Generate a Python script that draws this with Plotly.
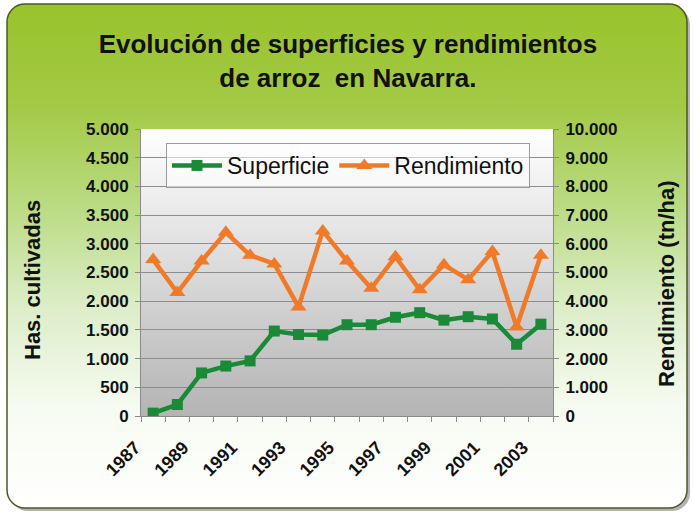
import base64
import plotly.graph_objects as go

# ---------------- data ----------------
years = [1987, 1988, 1989, 1990, 1991, 1992, 1993, 1994, 1995, 1996,
         1997, 1998, 1999, 2000, 2001, 2002, 2003]
superficie = [50, 200, 750, 870, 960, 1480, 1420, 1410, 1590, 1590,
              1720, 1800, 1670, 1730, 1690, 1250, 1600]
rendimiento = [5450, 4300, 5400, 6400, 5600, 5300, 3800, 6450, 5400, 4450,
               5550, 4400, 5270, 4750, 5730, 3100, 5600]

x_label_years = [1987, 1989, 1991, 1993, 1995, 1997, 1999, 2001, 2003]
x_tick_text = [str(y) for y in x_label_years]
left_ticks = [0, 500, 1000, 1500, 2000, 2500, 3000, 3500, 4000, 4500, 5000]
left_tick_text = ["0", "500", "1.000", "1.500", "2.000", "2.500", "3.000",
                  "3.500", "4.000", "4.500", "5.000"]
right_ticks = [0, 1000, 2000, 3000, 4000, 5000, 6000, 7000, 8000, 9000, 10000]
right_tick_text = ["0", "1.000", "2.000", "3.000", "4.000", "5.000", "6.000",
                   "7.000", "8.000", "9.000", "10.000"]

title_text = "Evolución de superficies y rendimientos<br>de arroz  en Navarra."
left_title = "Has. cultivadas"
right_title = "Rendimiento (tn/ha)"

# ---------------- layout geometry ----------------
W, H = 693, 513
PL, PR, PT, PB = 141, 553, 129, 416
FONT = "Liberation Sans, Arial, sans-serif"

svg = f"""<svg xmlns='http://www.w3.org/2000/svg' width='{W}' height='{H}' viewBox='0 0 {W} {H}' preserveAspectRatio='none'>
<defs>
<linearGradient id='g' x1='0' y1='0' x2='0' y2='1'>
<stop offset='0' stop-color='#99c32b'/>
<stop offset='0.2' stop-color='#a3c945'/>
<stop offset='0.4' stop-color='#badb82'/>
<stop offset='0.6' stop-color='#dcedc8'/>
<stop offset='0.8' stop-color='#f6fbf1'/>
<stop offset='1' stop-color='#ffffff'/>
</linearGradient>
<linearGradient id='p' x1='0' y1='0' x2='0' y2='1'>
<stop offset='0' stop-color='#ffffff'/>
<stop offset='1' stop-color='#b4b4b4'/>
</linearGradient>
</defs>
<rect x='10' y='7' width='680' height='504' rx='18' fill='#555555' opacity='0.45'/>
<rect x='7' y='4' width='680' height='504' rx='18' fill='url(#g)' stroke='#4a5a22' stroke-width='1.5'/>
<rect x='{PL}' y='{PT}' width='{PR-PL}' height='{PB-PT}' fill='url(#p)'/>
<line x1='{PL}' y1='{PB+1.5}' x2='{PR}' y2='{PB+1.5}' stroke='#ffffff' stroke-width='1.5'/>
</svg>"""
bg_uri = "data:image/svg+xml;base64," + base64.b64encode(svg.encode()).decode()

fig = go.Figure()
fig.add_trace(go.Scatter(
    x=years, y=superficie, name="Superficie", mode="lines+markers",
    line=dict(color="#1a8a38", width=4.5),
    marker=dict(symbol="square", size=11, color="#1a8a38"),
    yaxis="y"))
fig.add_trace(go.Scatter(
    x=years, y=rendimiento, name="Rendimiento", mode="lines+markers",
    line=dict(color="#f07a28", width=4.5),
    marker=dict(symbol="triangle-up", size=14, color="#f07a28"),
    yaxis="y2"))

tickfont = dict(family=FONT, size=17, color="#111111", weight="bold")
axcol = "#8a8a8a"

fig.update_layout(
    width=W, height=H,
    margin=dict(l=0, r=0, t=0, b=0),
    paper_bgcolor="white", plot_bgcolor="rgba(0,0,0,0)",
    font=dict(family=FONT, color="#111111"),
    images=[dict(source=bg_uri, xref="paper", yref="paper", x=0, y=1,
                 sizex=1, sizey=1, xanchor="left", yanchor="top",
                 sizing="stretch", layer="below")],
    title=dict(text="<b>" + title_text + "</b>", x=0.502, xanchor="center",
               xref="paper", yref="container", y=1 - 53 / H, yanchor="top",
               font=dict(size=26, color="#111111", family=FONT)),
    xaxis=dict(domain=[PL / W, PR / W], range=[1986.5, 2003.5],
               tickvals=x_label_years, ticktext=x_tick_text, tickangle=-45,
               tickfont=dict(family=FONT, size=18, color="#111111", weight="bold"),
               ticklabelshift=-18, ticklabelstandoff=13,
               ticks="", showgrid=False, zeroline=False, showline=True,
               linecolor=axcol, linewidth=1, automargin=False,
               minor=dict(tick0=1986.5, dtick=1, ticks="outside", ticklen=5,
                          tickcolor=axcol, showgrid=False)),
    yaxis=dict(domain=[1 - PB / H, 1 - PT / H], range=[0, 5000],
               tickvals=left_ticks, ticktext=left_tick_text,
               tickfont=tickfont, ticks="outside", ticklen=5, tickcolor=axcol,
               ticklabelstandoff=3,
               showgrid=True, gridcolor="#8e8e8e", gridwidth=1,
               zeroline=False, showline=True, linecolor=axcol, automargin=False),
    yaxis2=dict(overlaying="y", side="right", range=[0, 10000],
                tickvals=right_ticks, ticktext=right_tick_text,
                tickfont=tickfont, ticks="outside", ticklen=5, tickcolor=axcol,
                ticklabelstandoff=3,
                showgrid=False, zeroline=False, showline=True, linecolor=axcol,
                automargin=False),
    legend=dict(orientation="h", x=166 / W, y=1 - 143 / H, xanchor="left",
                yanchor="top", bgcolor="rgba(255,255,255,0.55)",
                bordercolor="#9a9a9a", borderwidth=1, itemwidth=50,
                font=dict(size=23, color="#111111", family=FONT)),
    annotations=[
        dict(text="<b>" + left_title + "</b>", x=32 / W, y=1 - 280 / H,
             xref="paper", yref="paper", xanchor="center", yanchor="middle",
             showarrow=False, textangle=-90,
             font=dict(size=22, color="#111111")),
        dict(text="<b>" + right_title + "</b>", x=666 / W, y=1 - 284 / H,
             xref="paper", yref="paper", xanchor="center", yanchor="middle",
             showarrow=False, textangle=-90,
             font=dict(size=22, color="#111111")),
    ],
    showlegend=True,
)

fig.write_html("out.html", config={"displayModeBar": False},
               post_script="document.body.style.margin='0';document.body.style.overflow='hidden';")
